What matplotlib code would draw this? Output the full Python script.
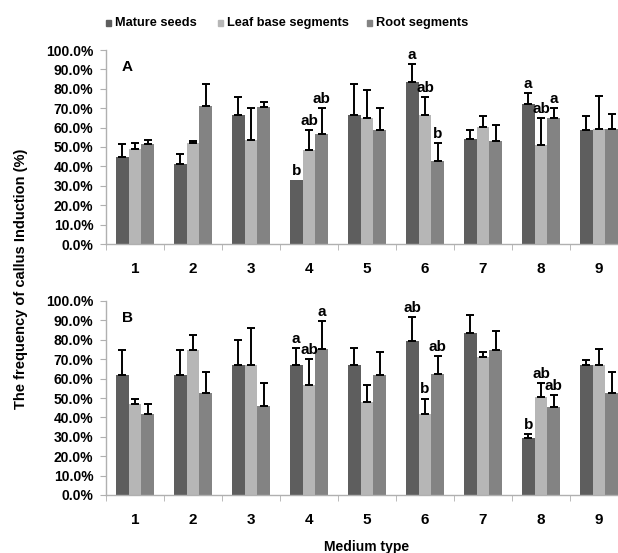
import matplotlib
matplotlib.use("Agg")
import matplotlib.pyplot as plt
from matplotlib.patches import Rectangle
import numpy as np

plt.rcParams['font.family'] = ['Liberation Sans', 'DejaVu Sans']
plt.rcParams['font.weight'] = 'bold'

media = ['1', '2', '3', '4', '5', '6', '7', '8', '9']
series = ['Mature seeds', 'Leaf base segments', 'Root segments']
colors = ['#5e5e5e', '#b6b6b6', '#838383']

# Panel A: mean callus induction (%) and standard error
a_mature = [45.0, 41.2, 66.5, 32.8, 66.5, 83.3, 54.3, 72.0, 58.8]
a_leaf = [49.0, 52.1, 53.6, 48.5, 64.8, 66.5, 60.5, 51.2, 59.1]
a_root = [51.5, 71.0, 70.4, 56.5, 58.9, 42.8, 53.3, 64.9, 59.1]
a_mature_err = [6.5, 5.0, 9.3, 0.0, 15.8, 9.5, 4.5, 5.8, 7.3]
a_leaf_err = [3.2, 1.2, 16.7, 10.4, 14.7, 9.4, 5.3, 13.6, 17.0]
a_root_err = [1.9, 11.6, 3.0, 13.4, 11.4, 9.3, 7.9, 5.0, 7.9]
a_letters_mature = ['', '', '', 'b', '', 'a', '', 'a', '']
a_letters_leaf = ['', '', '', 'ab', '', 'ab', '', 'ab', '']
a_letters_root = ['', '', '', 'ab', '', 'b', '', 'a', '']

# Panel B
b_mature = [61.7, 61.7, 66.8, 66.8, 66.8, 79.6, 83.5, 29.2, 66.8]
b_leaf = [46.7, 74.7, 66.8, 56.7, 48.1, 41.8, 71.0, 50.3, 66.8]
b_root = [41.8, 52.4, 45.9, 75.1, 61.7, 62.4, 74.7, 45.5, 52.4]
b_mature_err = [12.9, 12.9, 13.3, 9.0, 9.1, 12.0, 9.5, 2.2, 2.6]
b_leaf_err = [2.8, 7.6, 19.1, 13.6, 8.4, 7.9, 2.5, 7.6, 8.3]
b_root_err = [4.9, 11.0, 12.0, 14.6, 12.0, 9.4, 9.8, 6.2, 11.0]
b_letters_mature = ['', '', '', 'a', '', 'ab', '', 'b', '']
b_letters_leaf = ['', '', '', 'ab', '', 'b', '', 'ab', '']
b_letters_root = ['', '', '', 'a', '', 'ab', '', 'ab', '']

yticks = np.arange(0, 101, 10)
ytick_labels = [f'{v:.1f}%' for v in yticks]

W, H = 618, 553
fig = plt.figure(figsize=(W / 100, H / 100), dpi=100)

axis_color = '#b0b0b0'
bar_w = 0.22
offsets = [-bar_w, 0.0, bar_w]


def draw_panel(ax, values, errors, letters, tag):
    x = np.arange(1, len(media) + 1)
    for i in range(3):
        xs = x + offsets[i]
        vals = np.asarray(values[i])
        errs = np.asarray(errors[i])
        ax.bar(xs, vals, width=bar_w, color=colors[i], zorder=2)
        has_err = errs > 0
        ax.errorbar(xs[has_err], vals[has_err],
                    yerr=[np.zeros(has_err.sum()), errs[has_err]],
                    fmt='none', ecolor='black', elinewidth=1.4, capsize=3.2,
                    capthick=1.4, zorder=3)
        for xv, v, e, lab in zip(xs, vals, errs, letters[i]):
            if lab:
                ax.annotate(lab, (xv, v + e), xytext=(0, 1.5),
                            textcoords='offset points', ha='center',
                            va='bottom', fontsize=11, fontweight='bold')
    ax.set_xlim(0.5, len(media) + 0.5)
    ax.set_ylim(0, 100)
    ax.set_yticks(yticks)
    ax.set_yticklabels(ytick_labels, fontsize=10, fontweight='bold')
    ax.set_xticks(x)
    ax.set_xticklabels(media, fontsize=11, fontweight='bold')
    ax.set_xticks(np.arange(0.5, len(media) + 1, 1.0), minor=True)
    ax.tick_params(axis='x', which='major', length=0, pad=13)
    ax.tick_params(axis='x', which='minor', length=4, color=axis_color)
    ax.tick_params(axis='y', length=4, color=axis_color, pad=5)
    for s in ['top', 'right']:
        ax.spines[s].set_visible(False)
    for s in ['left', 'bottom']:
        ax.spines[s].set_color(axis_color)
        ax.spines[s].set_linewidth(1.0)
    ax.text(0.03, 0.91, tag, transform=ax.transAxes, fontsize=11,
            fontweight='bold', ha='left', va='center')


left_px, axw_px = 106, 522
ax_a = fig.add_axes([left_px / W, (H - 244) / H, axw_px / W, 194 / H])
ax_b = fig.add_axes([left_px / W, (H - 495) / H, axw_px / W, 194 / H])

draw_panel(ax_a, [a_mature, a_leaf, a_root],
           [a_mature_err, a_leaf_err, a_root_err],
           [a_letters_mature, a_letters_leaf, a_letters_root], 'A')
draw_panel(ax_b, [b_mature, b_leaf, b_root],
           [b_mature_err, b_leaf_err, b_root_err],
           [b_letters_mature, b_letters_leaf, b_letters_root], 'B')

fig.text(21 / W, 1 - 279 / H, 'The frequency of callus Induction (%)',
         rotation=90, ha='center', va='center', fontsize=10.5,
         fontweight='bold')
fig.text(367 / W, 1 - 547 / H, 'Medium type', ha='center', va='center',
         fontsize=10, fontweight='bold')

# Legend row along the top edge
legend_x = [106, 218, 367]
legend_y = 23
for lx, name, c in zip(legend_x, series, colors):
    fig.add_artist(Rectangle((lx / W, (H - legend_y - 3) / H), 5 / W, 6 / H,
                             transform=fig.transFigure, color=c))
    fig.text((lx + 9) / W, 1 - legend_y / H, name, ha='left', va='center',
             fontsize=9.2, fontweight='bold')

fig.savefig('out.png', dpi=100)
